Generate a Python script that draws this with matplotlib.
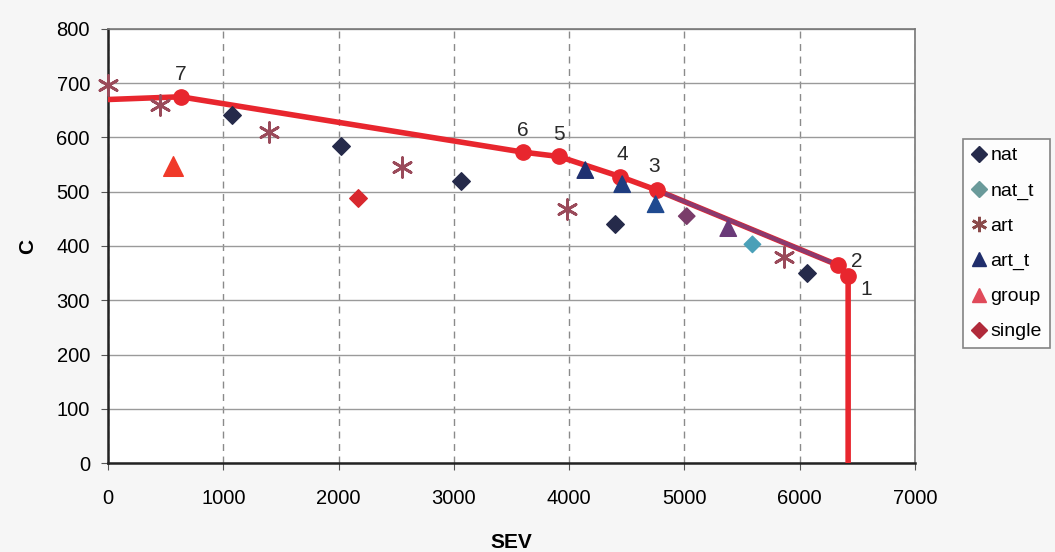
import matplotlib.pyplot as plt
from matplotlib.lines import Line2D

plt.rcParams['font.family'] = ['Liberation Sans', 'DejaVu Sans']

# scatter series (SEV, C)
nat_x = [1075, 2020, 3060, 4400, 6060]
nat_y = [641, 584, 519, 440, 350]
nat_t_x = [5020, 5590]
nat_t_y = [455, 403]
art_x = [0, 450, 1400, 2550, 3980, 5860]
art_y = [696, 659, 611, 545, 468, 380]
art_t_x = [4140, 4460, 4750, 5380]
art_t_y = [540, 514, 477, 433]
group_x = [565]
group_y = [547]
single_x = [2170]
single_y = [488]

# frontier line with numbered points
front_x = [0, 630, 3600, 3910, 4440, 4760, 6330, 6420, 6420]
front_y = [670, 675, 573, 565, 528, 503, 365, 345, 0]
front_lab = ['', '7', '6', '5', '4', '3', '2', '1', '']

fig = plt.figure(figsize=(10.55, 5.52), dpi=100)
fig.patch.set_facecolor('#f6f6f6')
ax = fig.add_axes([0.1024, 0.1612, 0.7649, 0.7863])
ax.set_facecolor('white')

ax.grid(axis='y', color='#9a9a9a', lw=1.0, ls='-')
ax.grid(axis='x', color='#8a8a8a', lw=1.0, ls=(0, (5, 4)))
ax.set_axisbelow(True)

ax.plot(front_x, front_y, color='#e8262e', lw=4, zorder=3, solid_capstyle='round')
ax.plot(front_x[5:7], front_y[5:7], color='#8b3a6e', lw=3, zorder=3)
ax.plot(front_x[1:8], front_y[1:8], 'o', color='#e8262e', ms=11, zorder=4)

ax.scatter(nat_x, nat_y, marker='D', s=80, color='#252a4a', zorder=5)
ax.scatter(nat_t_x, nat_t_y, marker='D', s=70, color=['#7a3c6a', '#4aa0b8'], zorder=5)
ax.scatter(art_x, art_y, marker=(6, 2, 0), s=200, color='#9a4a5a', lw=2, zorder=5,
           clip_on=False)
ax.scatter(art_t_x, art_t_y, marker='^', s=140, color=['#1f3070', '#1f3c80', '#1f4a90', '#6a3a78'], zorder=5)
ax.scatter(group_x, group_y, marker='^', s=200, color='#f03a2a', zorder=5)
ax.scatter(single_x, single_y, marker='D', s=80, color='#d8282e', zorder=5)

offs = {'7': (0, 9), '6': (0, 9), '5': (0, 9), '4': (2, 9), '3': (-2, 10),
        '2': (14, -4), '1': (13, -17)}
for x, y, lab in zip(front_x, front_y, front_lab):
    if lab:
        dx, dy = offs[lab]
        ax.annotate(lab, (x, y), xytext=(dx, dy), textcoords='offset points',
                    ha='center', va='bottom', fontsize=15, color='#2a2a2a', zorder=6)

ax.set_xlim(0, 7000)
ax.set_ylim(0, 800)
ax.set_xticks(range(0, 7001, 1000))
ax.set_yticks(range(0, 801, 100))
ax.tick_params(labelsize=14.5, length=5, color='#555555')
ax.tick_params(axis='x', pad=14)
ax.tick_params(axis='y', pad=8)
ax.set_xlabel('SEV', fontsize=15, fontweight='bold', labelpad=18)
ax.set_ylabel('C', fontsize=15, fontweight='bold', labelpad=14)

for s in ['left', 'bottom']:
    ax.spines[s].set_color('#222222')
    ax.spines[s].set_linewidth(1.8)
for s in ['top', 'right']:
    ax.spines[s].set_color('#777777')
    ax.spines[s].set_linewidth(1.2)

handles = [
    Line2D([], [], marker='D', ls='', color='#252a4a', ms=8),
    Line2D([], [], marker='D', ls='', color='#6a9a9a', ms=8),
    Line2D([], [], marker=(6, 2, 0), ls='', color='#8b4a4a', ms=11, mew=2),
    Line2D([], [], marker='^', ls='', color='#1f2d6b', ms=10),
    Line2D([], [], marker='^', ls='', color='#e04a5a', ms=10),
    Line2D([], [], marker='D', ls='', color='#b02a3a', ms=8),
]
labels = ['nat', 'nat_t', 'art', 'art_t', 'group', 'single']
leg = fig.legend(handles, labels, loc='upper left', bbox_to_anchor=(0.913, 0.748),
                 fontsize=14, frameon=True, fancybox=False, handlelength=0.8,
                 handletextpad=0.2, borderpad=0.4, labelspacing=0.9, borderaxespad=0)
leg.get_frame().set_edgecolor('#666666')
leg.get_frame().set_linewidth(1.2)

fig.savefig('out.png', dpi=100, facecolor=fig.get_facecolor())
